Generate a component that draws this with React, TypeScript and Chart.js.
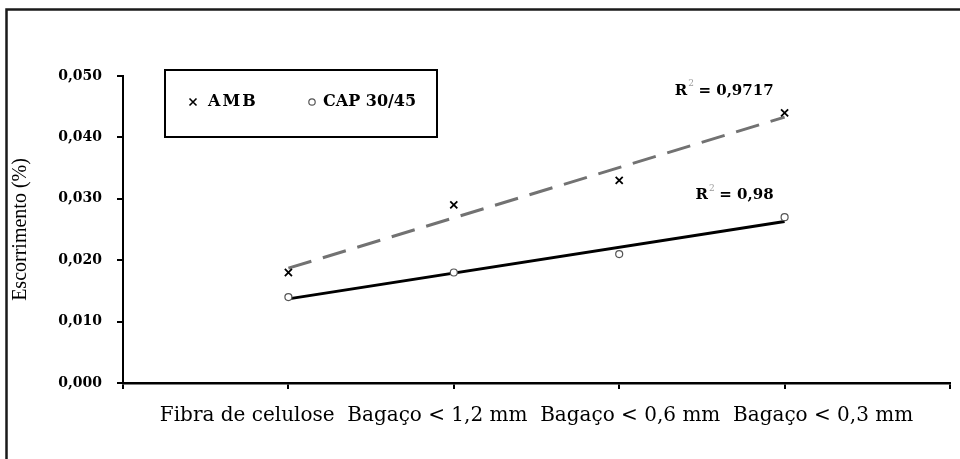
import React, { useEffect, useRef } from 'react';
import { Chart, registerables } from 'chart.js';

Chart.register(...registerables);

// ---- data ----
const categories = ['Fibra de celulose', 'Bagaço < 1,2 mm', 'Bagaço < 0,6 mm', 'Bagaço < 0,3 mm'];
const seriesLabels = ['AMB', 'CAP 30/45'];
const ambValues = [0.018, 0.029, 0.033, 0.044];
const capValues = [0.014, 0.018, 0.021, 0.027];
const yTickValues = [0, 0.01, 0.02, 0.03, 0.04, 0.05];
const yTitle = 'Escorrimento (%)';

type Fit = { slope: number; intercept: number; r2: number };

function linearFit(ys: number[]): Fit {
  const xs = ys.map((_, i) => i + 1);
  const n = ys.length;
  const mx = xs.reduce((a, b) => a + b, 0) / n;
  const my = ys.reduce((a, b) => a + b, 0) / n;
  let sxy = 0, sxx = 0;
  xs.forEach((x, i) => { sxy += (x - mx) * (ys[i] - my); sxx += (x - mx) * (x - mx); });
  const slope = sxy / sxx;
  const intercept = my - slope * mx;
  let ssr = 0, sst = 0;
  xs.forEach((x, i) => {
    const p = slope * x + intercept;
    ssr += (ys[i] - p) ** 2;
    sst += (ys[i] - my) ** 2;
  });
  return { slope, intercept, r2: 1 - ssr / sst };
}

const fmtR2 = (v: number) => String(parseFloat(v.toFixed(4))).replace('.', ',');

export default function App() {
  const ref = useRef<HTMLCanvasElement | null>(null);

  useEffect(() => {
    if (!ref.current) return;
    const fits = [linearFit(ambValues), linearFit(capValues)];
    const xs = categories.map((_, i) => i + 1);
    const firstX = xs[0];
    const lastX = xs[xs.length - 1];

    const framePlugin = {
      id: 'frame',
      beforeDraw(chart: any) {
        const ctx = chart.ctx;
        ctx.save();
        ctx.fillStyle = '#fff';
        ctx.fillRect(0, 0, chart.width, chart.height);
        ctx.strokeStyle = '#1a1a1a';
        ctx.lineWidth = 2.5;
        ctx.beginPath();
        ctx.moveTo(6.5, chart.height);
        ctx.lineTo(6.5, 9.5);
        ctx.lineTo(chart.width, 9.5);
        ctx.stroke();
        ctx.restore();
      },
    };

    const overlayPlugin = {
      id: 'overlay',
      afterDraw(chart: any) {
        const { ctx, chartArea } = chart;
        const xS = chart.scales.x;
        const yS = chart.scales.y;
        ctx.save();
        // legend
        const lx = chartArea.left + 42;
        const ly = chartArea.top - 6;
        const lw = 272;
        const lh = 67;
        ctx.lineWidth = 2;
        ctx.strokeStyle = '#000';
        ctx.strokeRect(lx, ly, lw, lh);
        const cy = ly + 32;
        // cross marker
        const mx = lx + 28;
        const r = 3.5;
        ctx.lineWidth = 1.6;
        ctx.beginPath();
        ctx.moveTo(mx - r, cy - r); ctx.lineTo(mx + r, cy + r);
        ctx.moveTo(mx + r, cy - r); ctx.lineTo(mx - r, cy + r);
        ctx.stroke();
        ctx.fillStyle = '#000';
        ctx.textAlign = 'left';
        ctx.textBaseline = 'middle';
        ctx.font = 'bold 16px "DejaVu Serif"';
        ctx.letterSpacing = '2px';
        ctx.fillText(chart.data.datasets[0].label, lx + 43, cy);
        ctx.letterSpacing = '0px';
        // circle marker
        ctx.beginPath();
        ctx.arc(lx + 147, cy, 3.2, 0, Math.PI * 2);
        ctx.fillStyle = '#fff';
        ctx.fill();
        ctx.lineWidth = 1.2;
        ctx.strokeStyle = '#555';
        ctx.stroke();
        ctx.fillStyle = '#000';
        ctx.fillText(chart.data.datasets[1].label, lx + 158, cy);

        // R² labels
        fits.forEach((f) => {
          const px = xS.getPixelForValue(lastX);
          const py = yS.getPixelForValue(f.slope * lastX + f.intercept);
          const rx = px - 11;
          const ry = py - 26;
          const valText = ' = ' + fmtR2(f.r2);
          ctx.font = 'bold 15px "DejaVu Serif"';
          const wVal = ctx.measureText(valText).width;
          const wR = ctx.measureText('R').width;
          const supW = 6;
          const start = rx - wVal - supW - wR;
          ctx.fillStyle = '#000';
          ctx.fillText('R', start, ry);
          ctx.font = '9px "DejaVu Serif"';
          ctx.fillStyle = '#999';
          ctx.fillText('2', start + wR + 1, ry - 7);
          ctx.font = 'bold 15px "DejaVu Serif"';
          ctx.fillStyle = '#000';
          ctx.fillText(valText, start + wR + supW, ry);
        });
        ctx.restore();
      },
    };

    const chart = new Chart(ref.current, {
      type: 'scatter',
      data: {
        datasets: [
          {
            label: seriesLabels[0],
            data: ambValues.map((v, i) => ({ x: xs[i], y: v })),
            pointStyle: 'crossRot',
            pointRadius: 5,
            borderColor: '#000',
            borderWidth: 1.8,
            backgroundColor: '#000',
          },
          {
            label: seriesLabels[1],
            data: capValues.map((v, i) => ({ x: xs[i], y: v })),
            pointStyle: 'circle',
            pointRadius: 3.5,
            borderColor: '#555',
            borderWidth: 1.2,
            backgroundColor: '#fff',
          },
          {
            label: 'trend AMB',
            data: [firstX, lastX].map((x) => ({ x, y: fits[0].slope * x + fits[0].intercept })),
            showLine: true,
            borderColor: '#727272',
            borderWidth: 3,
            borderDash: [24, 12],
            pointRadius: 0,
          },
          {
            label: 'trend CAP',
            data: [firstX, lastX].map((x) => ({ x, y: fits[1].slope * x + fits[1].intercept })),
            showLine: true,
            borderColor: '#000',
            borderWidth: 3,
            pointRadius: 0,
          },
        ],
      },
      options: {
        animation: false,
        responsive: true,
        maintainAspectRatio: false,
        events: [],
        layout: { padding: { top: 76, right: 10, left: 0, bottom: 0 } },
        plugins: {
          legend: { display: false },
          tooltip: { enabled: false },
        },
        scales: {
          x: {
            type: 'linear',
            min: 0,
            max: categories.length + 1,
            afterFit: (s: any) => { s.height = 76; },
            afterBuildTicks: (s: any) => {
              s.ticks = Array.from({ length: categories.length + 2 }, (_, i) => ({ value: i }));
            },
            ticks: { display: false },
            grid: { display: true, drawOnChartArea: false, drawTicks: true, tickLength: 6, color: '#000', lineWidth: 2 },
            border: { display: true, color: '#000', width: 2.5 },
            title: {
              display: true,
              text: categories.join('  '),
              color: '#000',
              font: { family: '"DejaVu Serif"', size: 20 },
              padding: { top: 0, bottom: 31 },
            },
          },
          y: {
            min: 0,
            max: 0.05,
            afterFit: (s: any) => { s.width = 123; },
            afterBuildTicks: (s: any) => { s.ticks = yTickValues.map((v) => ({ value: v })); },
            ticks: {
              color: '#000',
              padding: 15,
              font: { family: '"DejaVu Serif"', size: 14, weight: 'bold' },
              callback: (v: any) => Number(v).toFixed(3).replace('.', ','),
            },
            grid: { display: true, drawOnChartArea: false, drawTicks: true, tickLength: 6, color: '#000', lineWidth: 2 },
            border: { display: true, color: '#000', width: 2 },
            title: {
              display: true,
              text: yTitle,
              color: '#000',
              font: { family: '"Liberation Serif"', size: 20 },
              padding: { top: 9, bottom: 0 },
            },
          },
        },
      },
      plugins: [framePlugin, overlayPlugin],
    } as any);

    return () => chart.destroy();
  }, []);

  return (
    <div style={{ position: 'fixed', left: 0, top: 0, width: 960, height: 459, background: '#fff' }}>
      <canvas ref={ref} />
    </div>
  );
}
